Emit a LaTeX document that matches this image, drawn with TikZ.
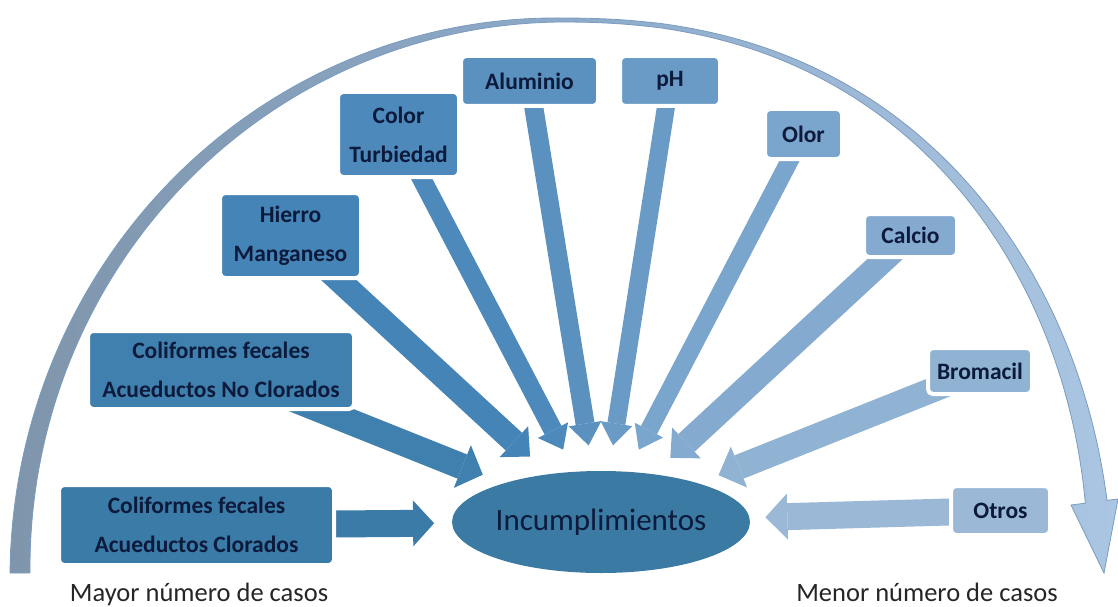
\documentclass[tikz,border=0pt]{standalone}
\usepackage{fontspec}
\setmainfont{Carlito}
\usetikzlibrary{arrows.meta,shapes.geometric}
\definecolor{c1}{HTML}{3B7BA8}
\definecolor{c2}{HTML}{3F80AE}
\definecolor{c3}{HTML}{4584B6}
\definecolor{c4}{HTML}{4D8ABB}
\definecolor{c5}{HTML}{5A91BF}
\definecolor{c6}{HTML}{6A9BC6}
\definecolor{c7}{HTML}{7AA5CC}
\definecolor{c8}{HTML}{84ABCF}
\definecolor{c9}{HTML}{91B3D3}
\definecolor{c10}{HTML}{9BB9D7}
\definecolor{txt}{HTML}{0C1A3B}
\definecolor{ellc}{HTML}{3A7AA3}
\definecolor{arcL}{HTML}{7F95AB}
\definecolor{arcM}{HTML}{8DAACA}
\definecolor{arcR}{HTML}{ABC6E2}
\definecolor{arcD}{HTML}{7B9CC0}
\definecolor{lbl}{HTML}{262626}
\newcommand\boxfont{\fontsize{23.5}{39}\selectfont\bfseries}
\pgfdeclarelayer{bg}
\pgfsetlayers{bg,main}
\begin{document}
\begin{tikzpicture}[x=1pt,y=-1pt,
  declare function={
    aw(\t)=(\t>90)*(4+16*(\t-90)/90)+(\t<=90)*(4+18*((max(90-\t,0)+0.001)/83)^1.7);
    cp(\t)=(\t<90)*(abs(cos(\t))+0.0001)^0.87+(\t>=90)*cos(\t);
  },
  box/.style={rectangle, rounded corners=5pt, draw=white, line width=4pt, text=txt,
    font=\boxfont, align=center, inner sep=0pt, outer sep=0pt},
  barrow/.style n args={3}{line width=#1, arrows={-{Triangle[width=#2,length=#3,line width=0pt]}}}]
\useasboundingbox (0,0) rectangle (1118,607);

% boxes
\node[box, fill=c1, minimum width=275pt, minimum height=80pt] (clor) at (196.5,525) {Coliformes fecales\\Acueductos Clorados};
\node[box, fill=c2, minimum width=266pt, minimum height=78pt] (noclor) at (221,370) {Coliformes fecales\\Acueductos No Clorados};
\node[box, fill=c3, minimum width=141pt, minimum height=85pt] (hierro) at (290.5,235.5) {Hierro\\Manganeso};
\node[box, fill=c4, minimum width=121pt, minimum height=85pt] (color) at (398.5,134.5) {Color\\Turbiedad};
\node[box, fill=c5, minimum width=137pt, minimum height=50pt] (alum) at (529.5,81) {Aluminio};
\node[box, fill=c6, minimum width=100pt, minimum height=50pt] (ph) at (670,81) {pH};
\node[box, fill=c7, minimum width=77pt, minimum height=50pt] (olor) at (803.5,134) {Olor};
\node[box, fill=c8, minimum width=93pt, minimum height=43pt] (calcio) at (910.5,235.5) {Calcio};
\node[box, fill=c9, minimum width=104pt, minimum height=46pt] (brom) at (980,371) {Bromacil};
\node[box, fill=c10, minimum width=99pt, minimum height=49pt] (otros) at (1000.5,510.5) {Otros};

\node[ellipse, fill=ellc, minimum width=292pt, minimum height=102pt, inner sep=0pt, outer sep=0pt,
  text=txt, font=\fontsize{31}{36}\selectfont] (ell) at (601,522) {Incumplimientos};

\node[anchor=base, text=lbl, font=\fontsize{26.5}{30}\selectfont] (mayor) at (199,601) {Mayor número de casos};
\node[anchor=base, text=lbl, font=\fontsize{26.5}{30}\selectfont] (menor) at (927,601) {Menor número de casos};

\begin{pgfonlayer}{bg}
\fill[white] (0,0) rectangle (1118,607);
% big curved arrow
\path[left color=arcL, right color=arcR, middle color=arcM, draw=arcD, line width=0.8pt]
  plot[domain=180:7.4, samples=140, smooth] ({560+(540+aw(\x)/2)*cp(\x)}, {573-(553+aw(\x)/2)*sin(\x)})
  -- (1118,499) -- (1104,573) -- (1071,505)
  -- plot[domain=7.4:180, samples=140, smooth] ({560+(540-aw(\x)/2)*cp(\x)}, {573-(553-aw(\x)/2)*sin(\x)})
  -- cycle;
% block arrows
\draw[barrow={27pt}{46pt}{21pt}, draw=c1, fill=c1, shorten >=18pt] (clor.center) -- (ell);
\draw[barrow={26pt}{46pt}{22pt}, draw=c2, fill=c2, shorten >=23pt] (noclor.center) -- (ell);
\draw[barrow={24pt}{42pt}{22pt}, draw=c3, fill=c3, shorten >=26pt] (hierro.center) -- (ell);
\draw[barrow={19pt}{34pt}{22pt}, draw=c4, fill=c4, shorten >=25pt] (color.center) -- (ell);
\draw[barrow={19pt}{33pt}{22pt}, draw=c5, fill=c5, shorten >=26pt] (alum.center) -- (ell);
\draw[barrow={18pt}{32pt}{22pt}, draw=c6, fill=c6, shorten >=26pt] (ph.center) -- (ell);
\draw[barrow={18pt}{32pt}{22pt}, draw=c7, fill=c7, shorten >=25pt] (olor.center) -- (ell);
\draw[barrow={24pt}{42pt}{22pt}, draw=c8, fill=c8, shorten >=24pt] (calcio.center) -- (ell);
\draw[barrow={25pt}{44pt}{22pt}, draw=c9, fill=c9, shorten >=22pt] (brom.center) -- (ell);
\draw[barrow={27pt}{46pt}{22pt}, draw=c10, fill=c10, shorten >=16pt] (otros.center) -- (ell);
\end{pgfonlayer}
\end{tikzpicture}
\end{document}
